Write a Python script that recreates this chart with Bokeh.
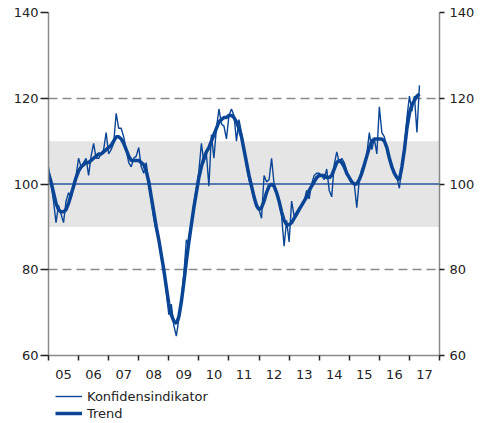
from bokeh.plotting import figure
from bokeh.models import (Range1d, LinearAxis, FixedTicker, BoxAnnotation, Span,
                          Legend, LegendItem, ColumnDataSource)
from bokeh.layouts import column
from bokeh.embed import file_html
from bokeh.resources import INLINE

# ---------------- data (monthly, Jan 2005 - May 2017) ----------------
start_year = 2005
konfidens = [
    104, 100, 96, 91, 95, 93, 91, 96, 98, 96.5, 100, 102,            # 2005
    106, 104, 105, 106, 102, 106.5, 109.5, 106, 106, 107, 108, 112,  # 2006
    107, 108, 109.5, 116.5, 113, 113, 111, 108, 105, 104, 106, 106.5,  # 2007
    108.5, 104, 102.5, 105, 100, 96, 92, 89, 87, 83, 80, 75,        # 2008
    69.5, 72, 67, 64.5, 68.5, 73, 79, 87, 86, 91, 95.5, 99,         # 2009
    103, 109.5, 105, 107, 99.5, 111.5, 106, 113, 117.5, 114, 113.5, 110.5,  # 2010
    116, 117.5, 116, 110, 115, 112, 108, 104, 101, 99, 96.5, 94.5,  # 2011
    94, 92, 102, 100.5, 101, 106, 100, 98, 96, 92.5, 85.5, 91.5,    # 2012
    86.5, 96, 92.5, 93.5, 94.5, 95, 96, 98.5, 96.5, 100, 102, 102.5,  # 2013
    102.5, 102, 101, 103.5, 98.5, 97, 104.5, 107.5, 105, 106, 105, 103,  # 2014
    101.5, 100.5, 100, 94.5, 101, 103.5, 104.5, 107, 112, 108, 110.5, 107,  # 2015
    118, 112, 111, 108, 105.5, 103.5, 102.5, 101.5, 99, 104.5, 108.5, 115.5,  # 2016
    120.5, 117, 120.5, 112, 123,                                     # 2017
]
trend = [
    102.5, 100.5, 98, 95.5, 94, 93.5, 93.5, 94, 95.5, 97.5, 99.5, 101.5,        # 2005
    103, 104, 104.5, 105, 105, 105.5, 106, 106.5, 107, 107, 107.5, 108,         # 2006
    108.5, 109, 110, 111, 111, 110.5, 109.5, 108, 106.5, 105.5, 105.5, 105.5,   # 2007
    105.5, 105, 104.5, 103, 100.5, 97, 93.5, 90, 87, 83.5, 80, 76,              # 2008
    72, 69.5, 68, 67.5, 69, 72.5, 77, 82, 86.5, 90.5, 94.5, 98,                 # 2009
    101.5, 104, 106, 107.5, 108.5, 110, 111.5, 113, 114.5, 115, 115.5, 115.5,   # 2010
    116, 116, 115.5, 114.5, 113, 111, 108, 105, 102, 99.5, 97, 95,              # 2011
    94, 94.5, 96, 98, 99.5, 100, 99.5, 98, 96, 93.5, 91.5, 90.5,                # 2012
    90.5, 91, 92, 93, 94, 95, 96, 97, 98.5, 99.5, 100.5, 101.5,                 # 2013
    102, 102, 102, 101.5, 101.5, 102, 103.5, 105, 105.5, 105, 104, 102.5,       # 2014
    101.5, 100.5, 100, 100, 101, 102.5, 104.5, 106.5, 108.5, 110, 110.5, 110.5, # 2015
    110.5, 110.5, 110, 108.5, 106, 104, 102.5, 101.5, 101, 104, 108, 113,       # 2016
    116.5, 118.5, 119.5, 120.5, 121,                                            # 2017
]
series_names = ["Konfidensindikator", "Trend"]
year_labels = ["05", "06", "07", "08", "09", "10", "11", "12", "13", "14", "15", "16", "17"]
y_ticks = [60, 80, 100, 120, 140]
grid_levels = [80, 120, 140]

x = [start_year + i / 12 for i in range(len(konfidens))]
src = ColumnDataSource(dict(x=x, konf=konfidens, trend=trend))

BLUE = "#0b4595"
FONT = "DejaVu Sans"
TXT = "#222222"
W_THIN, W_THICK = 1.4, 3.5

p = figure(width=481, height=381, output_backend="svg", toolbar_location=None,
           x_range=Range1d(start_year, start_year + len(year_labels)),
           y_range=Range1d(60, 140),
           min_border_left=48, min_border_right=42, min_border_top=12, min_border_bottom=26,
           outline_line_color=None, background_fill_color="white", border_fill_color="white")

# band and reference line
p.add_layout(BoxAnnotation(bottom=90, top=110, fill_color="#e5e5e5", fill_alpha=1,
                           line_color=None, level="underlay"))
p.add_layout(Span(location=100, dimension="width", line_color="#24559e",
                  line_width=1.5, level="underlay"))

# grid
p.xgrid.visible = False
p.ygrid.ticker = FixedTicker(ticks=grid_levels)
p.ygrid.grid_line_color = "#8a8a8a"
p.ygrid.grid_line_width = 1.5
p.ygrid.grid_line_dash = "9 5"

# series
p.line("x", "trend", source=src, line_color=BLUE, line_width=W_THICK)
p.line("x", "konf", source=src, line_color=BLUE, line_width=W_THIN)

# x axis
mid = [start_year + i + 0.5 for i in range(len(year_labels))]
bounds = [start_year + i for i in range(len(year_labels) + 1)]
xa = p.xaxis[0]
xa.ticker = FixedTicker(ticks=mid, minor_ticks=bounds)
xa.major_label_overrides = {m: lab for m, lab in zip(mid, year_labels)}
xa.major_tick_line_color = None
xa.major_tick_out = 0
xa.major_tick_in = 0
xa.minor_tick_line_color = TXT
xa.minor_tick_line_width = 1.5
xa.minor_tick_out = 5
xa.minor_tick_in = 0
xa.axis_line_color = "#8a8a8a"
xa.axis_line_width = 1.5
xa.major_label_standoff = 9
xa.major_label_text_font = FONT
xa.major_label_text_font_size = "13px"
xa.major_label_text_color = TXT

# y axes
ya = p.yaxis[0]
yr = LinearAxis()
p.add_layout(yr, "right")
for ax, tout, stand in ((ya, 8, 2), (yr, 5, 5)):
    ax.ticker = FixedTicker(ticks=y_ticks)
    ax.axis_line_color = "#8a8a8a"
    ax.axis_line_width = 1.5
    ax.major_tick_line_color = TXT
    ax.major_tick_line_width = 1.5
    ax.major_tick_out = tout
    ax.major_tick_in = 0
    ax.minor_tick_line_color = None
    ax.major_label_standoff = stand
    ax.major_label_text_font = FONT
    ax.major_label_text_font_size = "13px"
    ax.major_label_text_color = TXT

# ---------------- legend strip below ----------------
# (the series are drawn again here but lie outside this strip's ranges, so only
#  their legend samples are visible)
lg = figure(width=481, height=42, output_backend="svg", toolbar_location=None,
            x_axis_location=None, y_axis_location=None,
            x_range=Range1d(0, 1), y_range=Range1d(0, 1),
            min_border_left=44, min_border_right=0, min_border_top=0, min_border_bottom=0,
            outline_line_color=None, background_fill_color="white", border_fill_color="white")
lg.xgrid.visible = False
lg.ygrid.visible = False
l_konf = lg.line("x", "konf", source=src, line_color=BLUE, line_width=W_THIN)
l_trend = lg.line("x", "trend", source=src, line_color=BLUE, line_width=W_THICK)
legend = Legend(items=[LegendItem(label=series_names[0], renderers=[l_konf]),
                       LegendItem(label=series_names[1], renderers=[l_trend])],
                location="top_left", orientation="vertical",
                glyph_width=27, glyph_height=16, label_height=16, label_standoff=5,
                spacing=1, padding=0, margin=7, border_line_color=None,
                background_fill_alpha=0, label_text_font=FONT,
                label_text_font_size="13px", label_text_color=TXT)
lg.add_layout(legend, "center")

open("out.html", "w").write(file_html(column(p, lg), INLINE))
